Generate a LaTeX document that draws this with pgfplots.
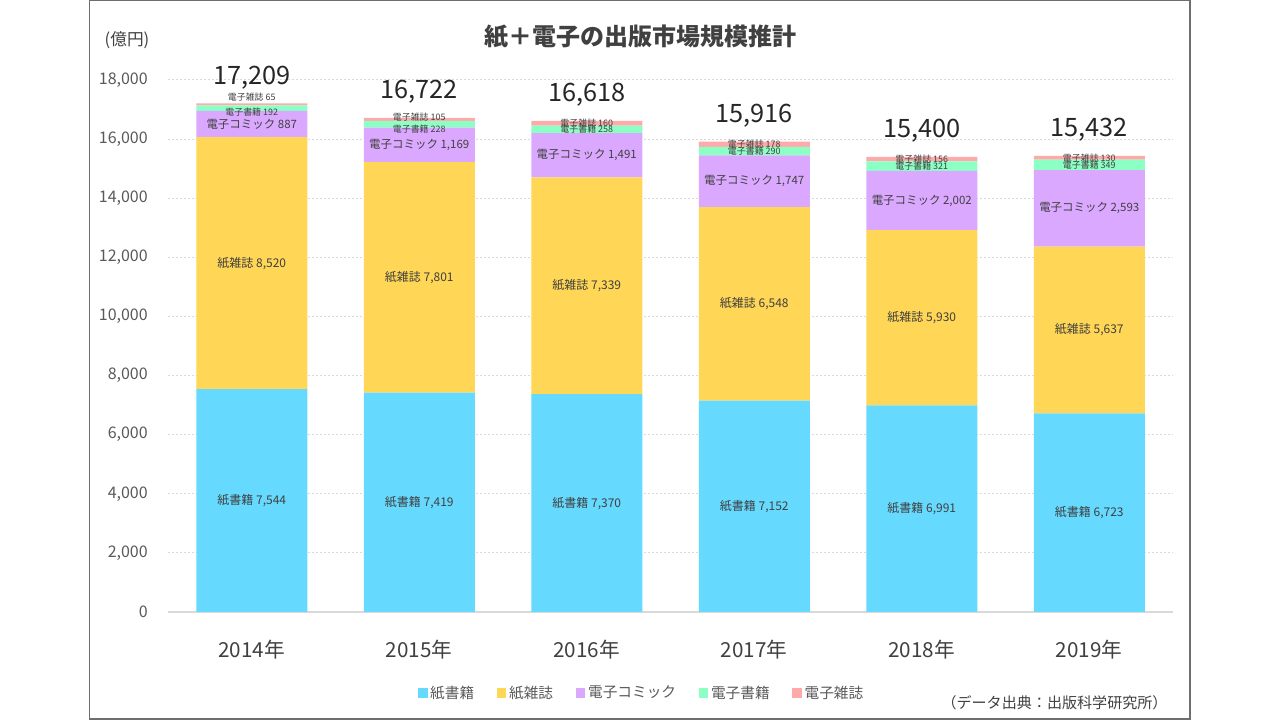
\documentclass[border=0pt]{standalone}
\usepackage{pgfplots}
\pgfplotsset{compat=1.18}
\usepackage{pgfplotstable}
\usepackage{fontspec}
\setmainfont{Noto Sans CJK JP}
\definecolor{cKB}{HTML}{66D9FF}
\definecolor{cKZ}{HTML}{FFD655}
\definecolor{cEC}{HTML}{DBA8FF}
\definecolor{cEB}{HTML}{8CFFC4}
\definecolor{cEM}{HTML}{FFAAAA}
\definecolor{cLab}{HTML}{404040}
\definecolor{cTick}{HTML}{595959}
\definecolor{cTot}{HTML}{262626}
\definecolor{cGrid}{HTML}{D9D9D9}
\definecolor{cFrame}{HTML}{6E6E6E}

\pgfplotstableread{
x kb kz ec eb em dyeb dyem totn tot
0 7544 8520 887 192 65 -2.6 5.8 17209 17,209
1 7419 7801 1169 228 105 -3.8 2.0 16722 16,722
2 7370 7339 1491 258 160 0 0 16618 16,618
3 7152 6548 1747 290 178 0 0 15916 15,916
4 6991 5930 2002 321 156 0 0 15400 15,400
5 6723 5637 2593 349 130 0 0 15432 15,432
}\datatable

\begin{document}
\begin{tikzpicture}
\path[use as bounding box] (0pt,0pt) rectangle (960pt,540pt);
\draw[cFrame, line width=1.2pt] (67.1pt,0.6pt) rectangle (892.5pt,539.6pt);
\begin{axis}[
  at={(126pt,81pt)}, anchor=south west,
  scale only axis, width=753.75pt, height=399pt,
  ybar stacked, bar width=83.25pt,
  xmin=-0.5, xmax=5.5, ymin=0, ymax=18000,
  xtick={0,1,2,3,4,5},
  xticklabels={2014年,2015年,2016年,2017年,2018年,2019年},
  ytick={0,2000,...,18000},
  scaled y ticks=false,
  /pgf/number format/1000 sep={,},
  /pgf/number format/assume math mode=true,
  axis line style={draw=none},
  major tick length=0pt,
  tick style={draw=none},
  ymajorgrids,
  major grid style={line width=0.75pt, dash pattern=on 1.5pt off 1.5pt, color=cGrid},
  yticklabel style={font=\fontsize{12}{12}\selectfont, text=cTick, inner sep=0pt, anchor=east, xshift=-15pt},
  xticklabel style={font=\fontsize{15.5}{16}\selectfont, text=cLab, inner sep=0pt, anchor=north, yshift=-21pt},
  clip=false,
  legend image code/.code={\fill[#1] (0pt,-3.6pt) rectangle (7.2pt,3.6pt);},
  legend style={draw=none, font=\fontsize{11}{12}\selectfont, text=cTick,
    at={(0.4716,-0.1523)}, anchor=center, legend columns=-1,
    /tikz/every even column/.append style={column sep=15pt}},
  legend entries={紙書籍,紙雑誌,電子コミック,電子書籍,電子雑誌},
]
\addplot[fill=cKB, draw=none,
  nodes near coords={紙書籍 \pgfmathprintnumber{\pgfplotspointmeta}},
  point meta=explicit,
  every node near coord/.style={font=\fontsize{9}{10}\selectfont, text=cLab, anchor=center}
] table[x=x, y=kb, meta=kb] {\datatable};
\addplot[fill=cKZ, draw=none,
  nodes near coords={紙雑誌 \pgfmathprintnumber{\pgfplotspointmeta}},
  point meta=explicit,
  every node near coord/.style={font=\fontsize{9}{10}\selectfont, text=cLab, anchor=center}
] table[x=x, y=kz, meta=kz] {\datatable};
\addplot[fill=cEC, draw=none,
  nodes near coords={電子コミック \pgfmathprintnumber{\pgfplotspointmeta}},
  point meta=explicit,
  every node near coord/.style={font=\fontsize{8.6}{9}\selectfont, text=cLab, anchor=center}
] table[x=x, y=ec, meta=ec] {\datatable};
\addplot[fill=cEB, draw=none,
  nodes near coords={電子書籍 \pgfmathprintnumber{\pgfplotspointmeta}},
  point meta=explicit,
  visualization depends on={\thisrow{dyeb} \as \dyoff},
  every node near coord/.style={font=\fontsize{6.7}{7}\selectfont, text=cLab, anchor=center, inner sep=0pt, yshift={\dyoff*1pt}}
] table[x=x, y=eb, meta=eb] {\datatable};
\addplot[fill=cEM, draw=none,
  nodes near coords={電子雑誌 \pgfmathprintnumber{\pgfplotspointmeta}},
  point meta=explicit,
  visualization depends on={\thisrow{dyem} \as \dyoff},
  every node near coord/.style={font=\fontsize{6.7}{7}\selectfont, text=cLab, anchor=center, inner sep=0pt, yshift={\dyoff*1pt}}
] table[x=x, y=em, meta=em] {\datatable};
\draw[cGrid, line width=1.2pt] (rel axis cs:0,0) -- (rel axis cs:1,0);
\end{axis}
\begin{axis}[
  at={(126pt,81pt)}, anchor=south west,
  scale only axis, width=753.75pt, height=399pt,
  xmin=-0.5, xmax=5.5, ymin=0, ymax=18000,
  hide axis, clip=false,
]
\addplot[draw=none, mark=none, only marks,
  nodes near coords, point meta=explicit symbolic,
  every node near coord/.style={font=\fontsize{19}{20}\selectfont, text=cTot, anchor=base, inner sep=0pt, yshift=14.25pt}
] table[x=x, y=totn, meta=tot] {\datatable};
\end{axis}
\node[font=\bfseries\fontsize{18}{18}\selectfont, text=cLab] at (480pt,512.25pt) {紙＋電子の出版市場規模推計};
\node[font=\fontsize{12.5}{13}\selectfont, text=cLab] at (95.25pt,510pt) {(億円)};
\node[font=\fontsize{11.3}{12}\selectfont, text=cLab] at (790.9pt,12.75pt) {（データ出典：出版科学研究所）};
\end{tikzpicture}
\end{document}
